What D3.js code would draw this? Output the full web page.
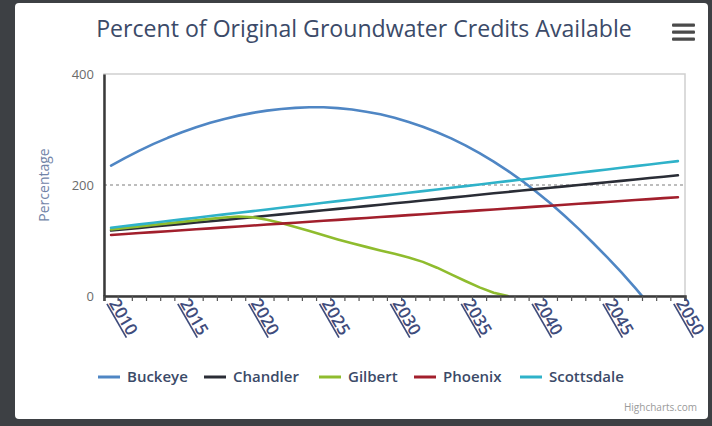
<!DOCTYPE html>
<html>
<head>
<meta charset="utf-8">
<script src="https://cdn.jsdelivr.net/npm/d3@7"></script>
<style>
  html, body { margin: 0; padding: 0; background: #3d4044; }
  svg { display: block; }
  text { font-family: "Open Sans", "DejaVu Sans", sans-serif; }
</style>
</head>
<body>
<svg id="chart" width="712" height="426"></svg>
<script>
// Categories (years) and series values, in percent of original credits
const years = [2010,2011,2012,2013,2014,2015,2016,2017,2018,2019,
               2020,2021,2022,2023,2024,2025,2026,2027,2028,2029,
               2030,2031,2032,2033,2034,2035,2036,2037,2038,2039,
               2040,2041,2042,2043,2044,2045,2046,2047,2048,2049,2050];

const buckeye = [235,249,262,274,285,295,304,312,319,325,
                 330,334,337,339,340,340,338.5,336,332,327.5,
                 321,313.5,305,295,284,271.5,257.5,242,225.5,207.5,
                 188,167,144.5,121,96,70,43,14,-16,null,null];

const chandler = [118,120.4,122.8,125.2,127.6,130,132.4,134.8,137.2,139.6,
                  142,144.5,147,149.5,152,154.5,157,159.5,162,164.5,
                  167,169.5,172,174.6,177.2,179.8,182.4,185,187.5,190,
                  192.5,195,197.5,200,202.5,205,207.5,210,212.5,215,217.5];

const gilbert = [120,122.7,125.4,128.1,130.8,133.5,136.2,138.9,141.4,143.2,
                 142,137.5,131.5,124.5,117,109.5,102,95,88.5,82,
                 76,69.5,61.5,51,39,27,15.5,6,0,null,
                 null,null,null,null,null,null,null,null,null,null,null];

const phoenix = [110,111.7,113.4,115.1,116.8,118.5,120.2,121.9,123.6,125.3,
                 127,128.7,130.4,132.1,133.8,135.5,137.2,138.9,140.6,142.3,
                 144,145.7,147.4,149.1,150.8,152.5,154.2,155.9,157.6,159.3,
                 161,162.7,164.4,166.1,167.8,169.5,171.2,172.9,174.6,176.3,178];

const scottsdale = [123,126,129,132,135,138,141,144,147,150,
                    153,156,159,162,165,168,171,174,177,180,
                    183,186,189,192,195,198,201,204,207,210,
                    213,216,219,222,225,228,231,234,237,240,243];

const seriesNames = ["Buckeye", "Chandler", "Gilbert", "Phoenix", "Scottsdale"];
const seriesValues = [buckeye, chandler, gilbert, phoenix, scottsdale];
const seriesColors = ["#4f86c4", "#2a2d36", "#8fbc2e", "#a21f2c", "#2fb2c9"];

const yTicks = [0, 200, 400];
const labelYears = [2010, 2015, 2020, 2025, 2030, 2035, 2040, 2045, 2050];

const svg = d3.select("#chart");
const W = 712, H = 426;
const plot = { left: 104, right: 685, top: 74, bottom: 296 };

// Card background
svg.append("rect").attr("x", 0).attr("y", 0).attr("width", W).attr("height", H).attr("fill", "#3d4044");
svg.append("rect").attr("x", 15).attr("y", 3).attr("width", 693).attr("height", 416)
  .attr("rx", 4).attr("fill", "#ffffff");

// Scales
const x = d3.scalePoint().domain(years).range([plot.left, plot.right]).padding(0.5);
const xBand = d3.scaleBand().domain(years).range([plot.left, plot.right]);
const y = d3.scaleLinear().domain([0, 400]).range([plot.bottom, plot.top]);

// Plot border (top / right)
svg.append("rect")
  .attr("x", plot.left).attr("y", plot.top)
  .attr("width", plot.right - plot.left).attr("height", plot.bottom - plot.top)
  .attr("fill", "none").attr("stroke", "#cfcfcf").attr("stroke-width", 1.5);

// Dotted grid line at 200
svg.append("line")
  .attr("x1", plot.left).attr("x2", plot.right)
  .attr("y1", y(200)).attr("y2", y(200))
  .attr("stroke", "#a8a8a8").attr("stroke-width", 1.5).attr("stroke-dasharray", "3,3");

// Title
const title = svg.append("text")
  .attr("x", 364).attr("y", 37)
  .attr("text-anchor", "middle")
  .attr("fill", "#3b4a68")
  .style("font-size", "20px")
  .style("font-weight", "500")
  .text("Percent of Original Groundwater Credits Available");
const tw = title.node().getComputedTextLength();
title.style("font-size", (20 * 536 / tw).toFixed(2) + "px");

// Menu icon
[25, 32, 39].forEach(cy => {
  svg.append("rect").attr("x", 672).attr("y", cy - 1.5).attr("width", 23).attr("height", 3.2)
    .attr("rx", 1).attr("fill", "#4a4a4a");
});

// Series lines, clipped to the plot area
svg.append("clipPath").attr("id", "plotClip")
  .append("rect").attr("x", plot.left).attr("y", plot.top)
  .attr("width", plot.right - plot.left).attr("height", plot.bottom - plot.top);

const line = d3.line()
  .defined(d => d.v !== null)
  .x(d => x(d.year))
  .y(d => y(d.v));

const lines = svg.append("g").attr("clip-path", "url(#plotClip)");
seriesValues.forEach((vals, i) => {
  const pts = years.map((yr, j) => ({ year: yr, v: vals[j] }));
  lines.append("path")
    .datum(pts)
    .attr("d", line)
    .attr("fill", "none")
    .attr("stroke", seriesColors[i])
    .attr("stroke-width", 2.6)
    .attr("stroke-linejoin", "round")
    .attr("stroke-linecap", "round");
});

// Y axis
const yAxis = svg.append("g")
  .attr("transform", `translate(${plot.left},0)`)
  .call(d3.axisLeft(y).tickValues(yTicks).tickSize(0).tickPadding(10));
yAxis.select(".domain").attr("stroke", "#3a3a3a").attr("stroke-width", 2.5);
yAxis.selectAll("text").attr("fill", "#6b6b6b").style("font-size", "13px")
  .style("font-family", "'Open Sans', sans-serif");

svg.append("text")
  .attr("transform", `translate(49,${y(200)}) rotate(-90)`)
  .attr("text-anchor", "middle")
  .attr("fill", "#7284a8")
  .style("font-size", "14px")
  .text("Percentage");

// X axis: tick marks on category boundaries
const xTicks = svg.append("g")
  .attr("transform", `translate(0,${plot.bottom})`)
  .call(d3.axisBottom(xBand).tickSize(5).tickFormat(""));
xTicks.selectAll(".tick").attr("transform", d => `translate(${xBand(d)},0)`);
xTicks.selectAll(".tick line").attr("stroke", "#555").attr("stroke-width", 1.2);
xTicks.append("line").attr("x1", plot.right).attr("x2", plot.right).attr("y1", 0).attr("y2", 5)
  .attr("stroke", "#555").attr("stroke-width", 1.2);
xTicks.select(".domain").attr("stroke", "#3a3a3a").attr("stroke-width", 2.5);

// X axis: rotated year labels every fifth category
const xLabels = svg.append("g")
  .attr("transform", `translate(0,${plot.bottom})`)
  .call(d3.axisBottom(x).tickValues(labelYears).tickSize(0).tickFormat(d3.format("d")));
xLabels.select(".domain").remove();
xLabels.selectAll("text")
  .attr("text-anchor", "start")
  .attr("y", 0).attr("dy", 0)
  .attr("transform", "translate(-3,7) rotate(60)")
  .attr("fill", "#3f4c7c")
  .style("font-size", "17px")
  .style("font-weight", "600")
  .style("text-decoration", "underline")
  .style("font-family", "'Open Sans', sans-serif");

// Legend
const legendX = [98, 204, 319, 414, 520];
const legend = svg.append("g");
seriesNames.forEach((name, i) => {
  const g = legend.append("g").attr("transform", `translate(${legendX[i]},377)`);
  g.append("line").attr("x1", 0).attr("x2", 22).attr("y1", 0).attr("y2", 0)
    .attr("stroke", seriesColors[i]).attr("stroke-width", 3);
  g.append("text").attr("x", 29).attr("y", 5)
    .attr("fill", "#3b4a68")
    .style("font-size", "15px")
    .style("font-weight", "600")
    .text(name);
});

// Credits
svg.append("text")
  .attr("x", 697).attr("y", 411)
  .attr("text-anchor", "end")
  .attr("fill", "#9a9a9a")
  .style("font-size", "10px")
  .text("Highcharts.com");
</script>
</body>
</html>
